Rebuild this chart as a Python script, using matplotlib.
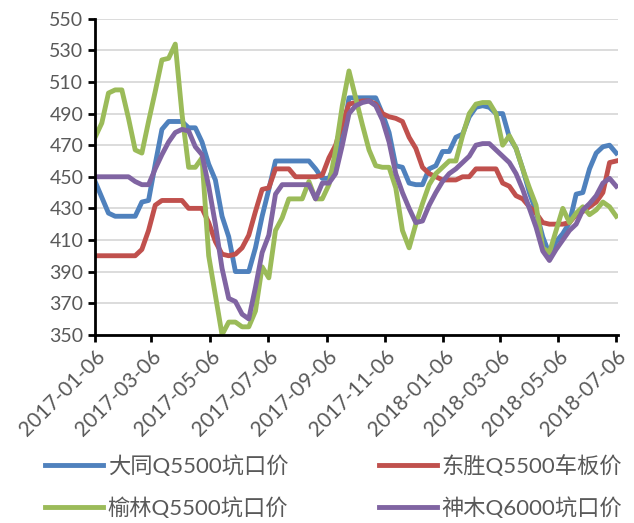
import matplotlib.pyplot as plt
import matplotlib.dates as mdates
import pandas as pd

plt.rcParams['font.family'] = ['Lato', 'Noto Sans CJK SC', 'DejaVu Sans']

# weekly prices, 2017-01-06 .. 2018-07-06
dates = pd.date_range("2017-01-06", "2018-07-06", freq="7D")

datong = [447, 437, 427, 425, 425, 425, 425, 434, 435, 458,
          480, 485, 485, 485, 481, 481, 472, 458, 448, 425,
          412, 390, 390, 390, 405, 425, 442, 460, 460, 460,
          460, 460, 460, 455, 449, 449, 459, 474, 500, 500,
          500, 500, 500, 490, 478, 457, 456, 446, 445, 445,
          455, 457, 466, 466, 475, 477, 488, 494, 495, 494,
          490, 490, 475, 468, 455, 440, 428, 412, 401, 409,
          414, 421, 439, 440, 455, 465, 469, 470, 465]
dongsheng = [400, 400, 400, 400, 400, 400, 400, 404, 416, 432,
             435, 435, 435, 435, 430, 430, 430, 421, 409, 401,
             400, 401, 405, 413, 428, 442, 443, 455, 455, 455,
             450, 450, 450, 450, 451, 462, 470, 484, 496, 497,
             498, 498, 496, 490, 488, 487, 485, 475, 468, 456,
             452, 450, 448, 448, 448, 450, 450, 455, 455, 455,
             455, 446, 444, 438, 436, 431, 427, 421, 420, 420,
             420, 421, 426, 428, 431, 434, 440, 459, 460]
yulin = [475, 484, 503, 505, 505, 487, 467, 465, 485, 504,
         524, 525, 534, 490, 456, 456, 462, 400, 375, 350,
         358, 358, 355, 355, 365, 393, 386, 416, 424, 436,
         436, 436, 447, 436, 436, 445, 467, 495, 517, 500,
         483, 467, 457, 456, 456, 443, 416, 405, 420, 433,
         445, 452, 456, 460, 460, 476, 490, 496, 497, 497,
         490, 470, 476, 468, 455, 443, 432, 405, 402, 416,
         430, 421, 427, 431, 426, 429, 434, 431, 425]
shenmu = [450, 450, 450, 450, 450, 450, 447, 445, 445, 455,
          464, 472, 478, 480, 479, 469, 464, 444, 420, 392,
          373, 371, 363, 360, 380, 402, 413, 439, 445, 445,
          445, 445, 445, 436, 446, 446, 452, 470, 490, 495,
          497, 498, 495, 486, 472, 452, 440, 430, 421, 422,
          432, 440, 447, 452, 455, 459, 463, 470, 471, 471,
          467, 463, 459, 452, 442, 430, 418, 403, 397, 404,
          410, 416, 420, 429, 433, 438, 446, 449, 444]

names = ["大同Q5500坑口价", "东胜Q5500车板价", "榆林Q5500坑口价", "神木Q6000坑口价"]
colors = ["#4f81bd", "#c0504d", "#9bbb59", "#8064a2"]
tick_dates = pd.to_datetime(["2017-01-06", "2017-03-06", "2017-05-06", "2017-07-06", "2017-09-06",
                             "2017-11-06", "2018-01-06", "2018-03-06", "2018-05-06", "2018-07-06"])

fig = plt.figure(figsize=(6.34, 5.23), dpi=100)
ax = fig.add_axes([0.150, 0.360, 0.825, 0.604])

lines = []
for vals, name, c in zip([datong, dongsheng, yulin, shenmu], names, colors):
    ln, = ax.plot(dates, vals, color=c, lw=3.5, label=name, solid_joinstyle='round')
    lines.append(ln)

ax.set_ylim(350, 550)
ax.set_yticks(range(350, 551, 20))
ax.set_xlim(dates[0], dates[-1] + pd.Timedelta(days=2))
ax.set_xticks(tick_dates)
ax.xaxis.set_major_formatter(mdates.DateFormatter("%Y-%m-%d"))
ax.grid(axis='y', color='#d9d9d9', lw=1.3)
ax.set_axisbelow(True)

for s in ['top', 'right']:
    ax.spines[s].set_visible(False)
for s in ['left', 'bottom']:
    ax.spines[s].set_linewidth(2)
ax.tick_params(axis='both', direction='out', length=5, width=2, labelsize=14, labelcolor='#595959')
ax.tick_params(axis='x', labelsize=15)
plt.setp(ax.get_xticklabels(), rotation=45, ha='right', rotation_mode='anchor')

# legend is filled column-wise, so reorder to get rows 大同/东胜, 榆林/神木
fig.legend(handles=[lines[0], lines[2], lines[1], lines[3]], loc='lower left', ncol=2,
           bbox_to_anchor=(0.04, -0.03), frameon=False, fontsize=16, labelcolor='#595959',
           handlelength=2.6, handletextpad=0.2, columnspacing=4.1, labelspacing=0.9)

plt.savefig("out.png")
